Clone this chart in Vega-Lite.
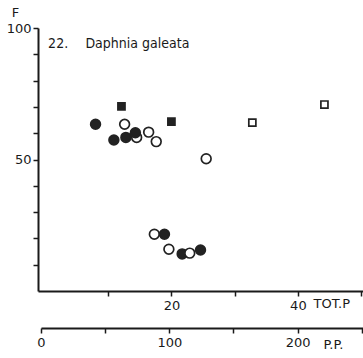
{
  "$schema": "https://vega.github.io/schema/vega-lite/v6.json",
  "autosize": "none",
  "width": 325,
  "height": 263,
  "padding": {"left": 38, "top": 28, "right": 0, "bottom": 67},
  "background": "white",
  "config": {
    "view": {"stroke": null},
    "font": "DejaVu Sans",
    "axis": {"grid": false, "domainColor": "#1a1a1a", "tickColor": "#1a1a1a", "labelColor": "#1a1a1a", "titleColor": "#1a1a1a", "labelFont": "DejaVu Sans", "titleFont": "DejaVu Sans", "titleFontWeight": "normal", "labelFontSize": 13, "titleFontSize": 13, "domainWidth": 2, "tickWidth": 1.5, "tickSize": 5, "labelOverlap": false, "labelBound": false, "labelFlush": false}
  },
  "datasets": {
    "pts": [
      {"totp": 12.1, "f": 70.2, "marker": "square", "filled": "yes"},
      {"totp": 20.0, "f": 64.4, "marker": "square", "filled": "yes"},
      {"totp": 32.8, "f": 64.0, "marker": "square", "filled": "no"},
      {"totp": 44.2, "f": 70.9, "marker": "square", "filled": "no"},
      {"totp": 8.0, "f": 63.4, "marker": "circle", "filled": "yes"},
      {"totp": 12.6, "f": 63.4, "marker": "circle", "filled": "no"},
      {"totp": 10.9, "f": 57.4, "marker": "circle", "filled": "yes"},
      {"totp": 12.8, "f": 58.4, "marker": "circle", "filled": "yes"},
      {"totp": 14.5, "f": 58.4, "marker": "circle", "filled": "no"},
      {"totp": 14.3, "f": 60.2, "marker": "circle", "filled": "yes"},
      {"totp": 16.4, "f": 60.4, "marker": "circle", "filled": "no"},
      {"totp": 17.6, "f": 56.8, "marker": "circle", "filled": "no"},
      {"totp": 25.5, "f": 50.3, "marker": "circle", "filled": "no"},
      {"totp": 17.3, "f": 21.6, "marker": "circle", "filled": "no"},
      {"totp": 18.9, "f": 21.6, "marker": "circle", "filled": "yes"},
      {"totp": 19.6, "f": 15.9, "marker": "circle", "filled": "no"},
      {"totp": 21.7, "f": 14.1, "marker": "circle", "filled": "yes"},
      {"totp": 22.9, "f": 14.4, "marker": "circle", "filled": "no"},
      {"totp": 24.6, "f": 15.6, "marker": "circle", "filled": "yes"}
    ],
    "labels": [
      {"totp": 0.5, "f": 93.9, "txt": "22."},
      {"totp": 6.4, "f": 93.9, "txt": "Daphnia galeata"}
    ],
    "pp": [
      {"pp": 0},
      {"pp": 200}
    ]
  },
  "layer": [
    {
      "layer": [
        {
          "data": {"name": "pts"},
          "mark": {"type": "point", "filled": true, "stroke": "#222", "strokeWidth": 1.7, "opacity": 1},
          "encoding": {
            "x": {"field": "totp", "type": "quantitative", "scale": {"domain": [-1.1, 50.3], "nice": false, "zero": false},
              "axis": {"values": [10, 20, 30, 40, 50], "tickCount": 20, "labelExpr": "datum.value == 20 || datum.value == 40 ? datum.label : ''", "title": "TOT.P", "titleAlign": "left", "titleBaseline": "middle", "titleX": 275, "titleY": 12, "labelPadding": 3, "labelOverlap": false}},
            "y": {"field": "f", "type": "quantitative", "scale": {"domain": [0, 100], "nice": false},
              "axis": {"values": [10, 20, 30, 40, 50, 60, 70, 80, 90, 100], "tickCount": 20, "labelExpr": "datum.value == 50 || datum.value == 100 ? datum.label : ''", "title": "F", "titleAngle": 0, "titleAlign": "center", "titleBaseline": "middle", "titleX": -23, "titleY": -16, "labelPadding": 2, "labelOverlap": false}},
            "shape": {"field": "marker", "type": "nominal", "scale": {"domain": ["circle", "square"], "range": ["circle", "square"]}, "legend": null},
            "fill": {"field": "filled", "type": "nominal", "scale": {"domain": ["yes", "no"], "range": ["#222", "white"]}, "legend": null},
            "size": {"field": "marker", "type": "nominal", "scale": {"domain": ["circle", "square"], "range": [95, 50]}, "legend": null}
          }
        },
        {
          "data": {"name": "labels"},
          "mark": {"type": "text", "align": "left", "baseline": "middle", "fontSize": 14, "font": "Liberation Sans Narrow, DejaVu Sans Condensed, DejaVu Sans", "color": "#1a1a1a"},
          "encoding": {
            "x": {"field": "totp", "type": "quantitative"},
            "y": {"field": "f", "type": "quantitative"},
            "text": {"field": "txt"}
          }
        }
      ]
    },
    {
      "data": {"name": "pp"},
      "mark": {"type": "point", "opacity": 0},
      "encoding": {
        "x": {"field": "pp", "type": "quantitative", "scale": {"domain": [0, 251], "range": [3, 325], "nice": false},
          "axis": {"orient": "bottom", "offset": 37, "values": [0, 50, 100, 150, 200, 250], "tickCount": 20, "labelExpr": "datum.value % 100 == 0 ? datum.label : ''", "title": "P.P.", "titleAlign": "left", "titleBaseline": "middle", "titleX": 285, "titleY": 16, "labelPadding": 3, "labelOverlap": false}}
      }
    }
  ],
  "resolve": {"scale": {"x": "independent"}, "axis": {"x": "independent"}}
}
